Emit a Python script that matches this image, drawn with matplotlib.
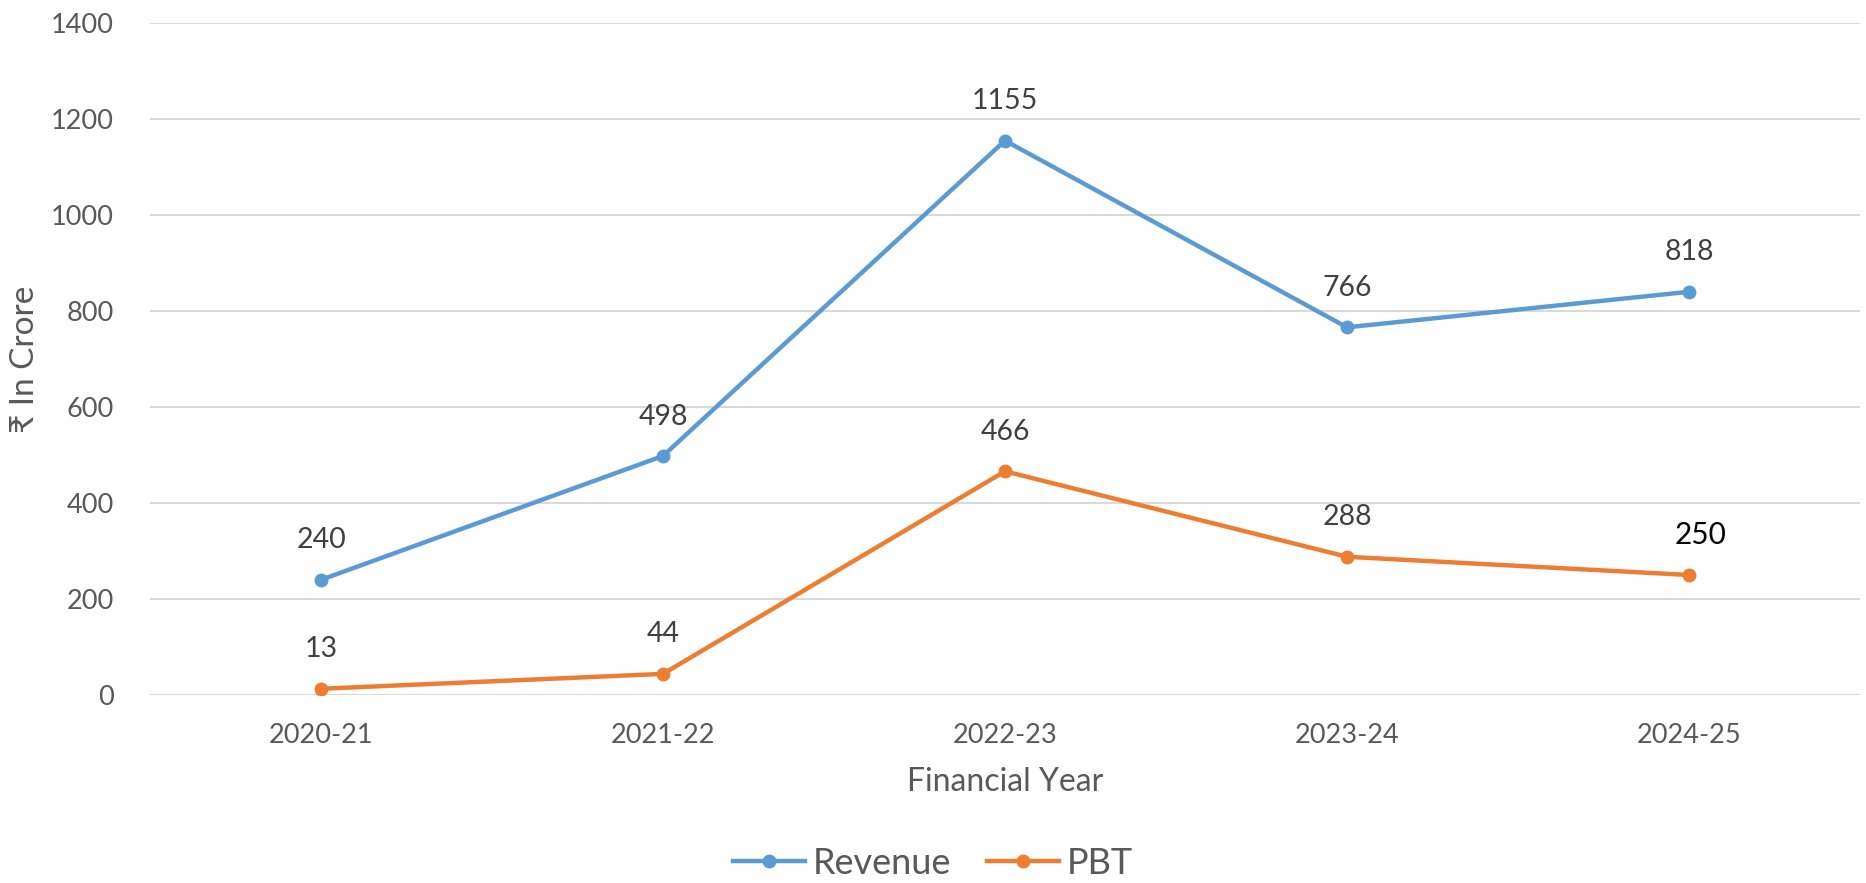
import matplotlib
matplotlib.use("Agg")
import matplotlib.pyplot as plt
from matplotlib.ticker import MultipleLocator

plt.rcParams['font.family'] = ['Lato', 'DejaVu Sans']

years = ["2020-21", "2021-22", "2022-23", "2023-24", "2024-25"]
revenue = [240, 498, 1155, 766, 840]
revenue_labels = ["240", "498", "1155", "766", "818"]
pbt = [13, 44, 466, 288, 250]
pbt_labels = ["13", "44", "466", "288", "250"]

blue = "#5B9BD5"
orange = "#ED7D31"
tick_c = "#595959"
lab_c = "#404040"

fig = plt.figure(figsize=(18.66, 8.83), dpi=100)
ax = fig.add_axes([150/1866, 1-695/883, 1710/1866, (695-23)/883])

x = list(range(len(years)))
ax.plot(x, revenue, color=blue, lw=3.2, marker='o', ms=9, label="Revenue", zorder=3)
ax.plot(x, pbt, color=orange, lw=3.2, marker='o', ms=9, label="PBT", zorder=3)

for i, (v, t) in enumerate(zip(revenue, revenue_labels)):
    ax.annotate(t, (i, v), xytext=(0, 19), textcoords='offset points', ha='center', va='bottom',
                fontsize=20.5, color=lab_c)
for i, (v, t) in enumerate(zip(pbt, pbt_labels)):
    last = (i == len(pbt) - 1)
    ax.annotate(t, (i, v), xytext=(8 if last else 0, 19), textcoords='offset points', ha='center', va='bottom',
                fontsize=21.5 if last else 20.5, color='black' if last else lab_c)

ax.set_xlim(-0.5, len(years) - 0.5)
ax.set_ylim(0, 1400)
ax.yaxis.set_major_locator(MultipleLocator(200))
ax.set_xticks(x)
ax.set_xticklabels(years)
ax.grid(axis='y', color='#d9d9d9', lw=1.5)
ax.set_axisbelow(True)
for s in ax.spines.values():
    s.set_visible(False)
ax.tick_params(axis='both', length=0, labelsize=19.5, labelcolor=tick_c)
ax.tick_params(axis='y', pad=26)
ax.tick_params(axis='x', pad=20)

ax.set_xlabel("Financial Year", fontsize=23, color=tick_c, labelpad=14)
ax.set_ylabel("₹ In Crore", fontsize=24, color=tick_c, labelpad=8)

leg = fig.legend(loc='center', bbox_to_anchor=(0.5, 1-863/883), ncol=2, frameon=False,
                 fontsize=26, handlelength=2.0, columnspacing=1.0, handletextpad=0.2)
for t in leg.get_texts():
    t.set_color(tick_c)

fig.savefig("out.png", dpi=100)
